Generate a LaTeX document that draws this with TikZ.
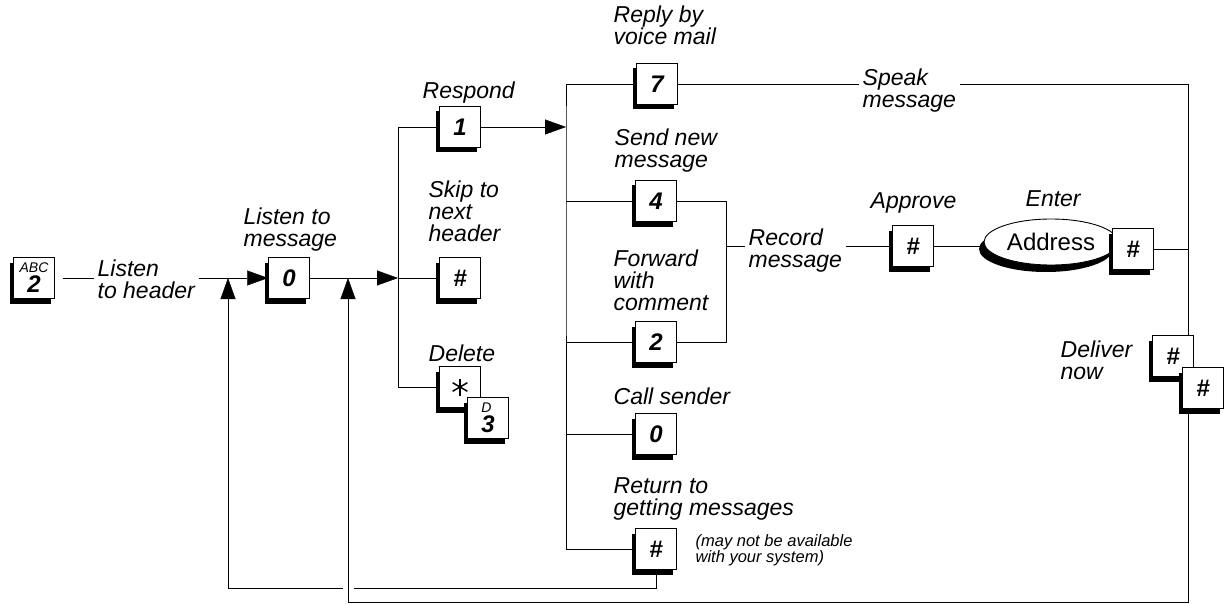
\documentclass[tikz,border=0pt]{standalone}
\usepackage{fontspec}
\setmainfont{Liberation Sans}
\usetikzlibrary{arrows.meta,shapes.geometric,shadows,backgrounds}

\newcommand{\lblfont}{\fontsize{23}{22}\selectfont\itshape}
\newcommand{\keyfont}{\fontsize{24}{24}\selectfont\bfseries\itshape}
\newcommand{\tinyfont}{\fontsize{14}{14}\selectfont\mdseries\itshape}
\newcommand{\notefont}{\fontsize{16.5}{15.5}\selectfont\itshape}

\tikzset{
  key/.style={draw, fill=white, line width=0.9pt, minimum width=41pt, minimum height=41pt,
    inner sep=0pt, font=\keyfont,
    drop shadow={shadow xshift=-4pt, shadow yshift=-5pt, fill=black, opacity=1}},
  lbl/.style={anchor=north west, align=left, inner sep=2pt, font=\lblfont},
  cover/.style={lbl, fill=white, inner xsep=4pt},
  arr/.style={-{Triangle[length=21pt,width=15pt]}},
}

\begin{document}
\begin{tikzpicture}[x=1pt, y=-1pt, line width=1.3pt]
	\useasboundingbox (0,0) rectangle (1225,604);

	% touches
	\node[key, align=center] (kabc) at (34,278) {{\tinyfont ABC}\\[-4pt]2};
	\node[key] (kzero) at (289,278) {0};
	\node[key] (kone) at (460,127) {1};
	\node[key] (kskip) at (460,278) {\#};
	\node[key] (kstar) at (460,387) {};
	% etoile
	\foreach \a in {90,210,330}
		\draw[line width=1.5pt] ([shift={(\a:8.5)}]kstar.center) -- ([shift={(\a+180:8.5)}]kstar.center);
	\node[key, align=left] (kthree) at (488,418) {{\tinyfont D}\\[-4pt]3};
	\node[key] (kseven) at (657,84) {7};
	\node[key] (kfour) at (656,201) {4};
	\node[key] (ktwo) at (656,342) {2};
	\node[key] (kcall) at (656,434) {0};
	\node[key] (kret) at (656,549) {\#};
	\node[key] (kapprove) at (913,246) {\#};
	\node[ellipse, draw, fill=white, line width=0.9pt, minimum width=130pt, minimum height=46pt,
		font=\fontsize{24}{24}\selectfont,
		drop shadow={shadow xshift=-5pt, shadow yshift=-7pt, fill=black, opacity=1}]
		(addr) at (1051,242) {Address};
	\node[key] (kaddr) at (1133,249) {\#};
	\node[key] (kdelone) at (1173,356) {\#};
	\node[key] (kdeltwo) at (1203,388) {\#};

	% textes
	\node[cover] (tHeader) at (93,257) {Listen\\to header};
	\node[lbl] (tMessage) at (241,205) {Listen to\\message};
	\node[lbl] (tRespond) at (420,79) {Respond};
	\node[lbl] (tSkip) at (426,178) {Skip to\\next\\header};
	\node[lbl] (tDelete) at (426,342) {Delete};
	\node[lbl] (tReply) at (611,3) {Reply by\\voice mail};
	\node[cover] (tSpeak) at (858,66) {Speak\\message};
	\node[lbl] (tSend) at (612,126) {Send new\\message};
	\node[lbl] (tForward) at (611,247) {Forward\\with\\comment};
	\node[cover] (tRecord) at (744,226) {Record\\message};
	\node[lbl] (tApprove) at (868,190) {Approve};
	\node[lbl] (tEnter) at (1023,188) {Enter};
	\node[lbl] (tDeliver) at (1058,338) {Deliver\\now};
	\node[lbl] (tCall) at (611,385) {Call sender};
	\node[lbl] (tReturn) at (611,475) {Return to\\getting messages};
	\node[lbl, font=\notefont] (tNote) at (693,532) {(may not be available\\with your system)};

	% points de jonction
	\coordinate (jA) at (398,278);
	\coordinate (jAlow) at (398,387);
	\coordinate (jB) at (566,127);
	\coordinate (jC) at (726,246);
	\coordinate (jEtop) at (1188,84);
	\coordinate (jEbot) at (1188,602);
	\coordinate (jF) at (228,588);
	\coordinate (jG) at (228,278);
	\coordinate (jH) at (348,278);

	% liaisons
	\begin{scope}[on background layer]
		\draw[arr, shorten <=8pt] (kabc) -- (kzero);
		\draw[arr] (kzero) -- (jA);
		\draw (kone.center) -| (jAlow) -- (kstar.center);
		\draw (jA) -- (kskip.center);
		\draw[arr] (kone.center) -- (jB);
		\draw (kseven.center) -| (jB) |- (kret.center);
		\foreach \k in {kfour,ktwo,kcall}
			\draw (\k.center) -- (\k -| jB);
		\draw (kfour.center) -| (jC) |- (ktwo.center);
		\draw (jC) -- (kapprove.center);
		\draw (kapprove.center) -- (kapprove -| addr.center);
		\draw (kaddr.center) -- (kaddr -| jEtop);
		\draw (kseven.center) -- (jEtop);
		% retour
		\draw[arr] (kret.center) |- (jF) -- (jG);
		\draw[white, line width=11pt] ([yshift=4pt]jH |- jF) -- ([yshift=-4pt]jH |- jF);
		\draw[arr] (jEtop) -- (jEbot) -| (jH);
	\end{scope}
\end{tikzpicture}
\end{document}
